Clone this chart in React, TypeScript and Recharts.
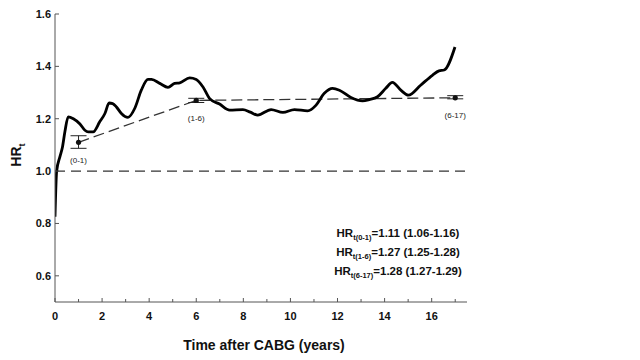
import React from 'react';
import {
    ComposedChart,
    Line,
    Scatter,
    ErrorBar,
    LabelList,
    XAxis,
    YAxis,
    ReferenceLine,
    Customized,
} from 'recharts';

// smoothed time-varying hazard ratio
const CURVE_T = [
    0, 0.07, 0.21, 0.32, 0.42, 0.56, 0.78, 1.06, 1.27, 1.41, 1.62, 1.9, 2.12, 2.3, 2.45, 2.61, 2.82, 3.1,
    3.39, 3.67, 3.95, 4.1, 4.45, 4.8, 5.08, 5.3, 5.72, 6.0, 6.28, 6.57, 6.99, 7.42, 7.98, 8.3, 8.61, 9.18,
    9.68, 10.17, 10.73, 11.09, 11.44, 11.79, 12.08, 12.57, 13.06, 13.35, 13.7, 14.05, 14.33, 14.69, 15.01,
    15.53, 16.03, 16.31, 16.53, 16.99,
];
const CURVE_HR = [
    0.826, 1.0, 1.055, 1.093, 1.15, 1.207, 1.2, 1.18, 1.156, 1.15, 1.15, 1.188, 1.22, 1.26, 1.258, 1.245,
    1.22, 1.205, 1.24, 1.31, 1.35, 1.35, 1.335, 1.32, 1.335, 1.337, 1.356, 1.35, 1.322, 1.277, 1.256, 1.233,
    1.235, 1.225, 1.214, 1.235, 1.224, 1.235, 1.23, 1.252, 1.297, 1.316, 1.309, 1.281, 1.268, 1.273, 1.284,
    1.316, 1.339, 1.309, 1.29, 1.328, 1.366, 1.383, 1.386, 1.474,
];

// period estimates
const PERIOD_LABELS = ['(0-1)', '(1-6)', '(6-17)'];
const PERIOD_T = [1, 6, 17];
const PERIOD_HR = [1.11, 1.27, 1.28];
const PERIOD_LOW = [1.087, 1.262, 1.276];
const PERIOD_HIGH = [1.135, 1.278, 1.288];

const HR_SUBS = ['t(0-1)', 't(1-6)', 't(6-17)'];
const HR_VALUES = ['=1.11 (1.06-1.16)', '=1.27 (1.25-1.28)', '=1.28 (1.27-1.29)'];

const X_TICKS = [0, 1, 2, 3, 4, 5, 6, 7, 8, 9, 10, 11, 12, 13, 14, 15, 16, 17];
const Y_TICKS = [0.6, 0.8, 1.0, 1.2, 1.4, 1.6];

const FONT = '"Liberation Sans", Arial, sans-serif';
const AXIS_COLOR = '#555';

const curve = CURVE_T.map((t, i) => ({ t, hr: CURVE_HR[i] }));
const periods = PERIOD_T.map((t, i) => ({
    t,
    hr: PERIOD_HR[i],
    err: [PERIOD_HR[i] - PERIOD_LOW[i], PERIOD_HIGH[i] - PERIOD_HR[i]],
    label: PERIOD_LABELS[i],
}));

const XTick = ({ x, y, payload }: any) => {
    const major = payload.value % 2 === 0;
    return (
        <g>
            <line x1={x} x2={x} y1={y} y2={y - (major ? 4 : 3)} stroke={AXIS_COLOR} />
            {major && (
                <text x={x} y={y + 18} textAnchor="middle" fontFamily={FONT} fontWeight="bold" fontSize={11} fill="#111">
                    {payload.value}
                </text>
            )}
        </g>
    );
};

const YTick = ({ x, y, payload }: any) => (
    <g>
        <line x1={x} x2={x + 4} y1={y} y2={y} stroke={AXIS_COLOR} />
        <text x={x - 4} y={y} dy="0.36em" textAnchor="end" fontFamily={FONT} fontWeight="bold" fontSize={11} fill="#111">
            {payload.value.toFixed(1)}
        </text>
    </g>
);

// period label under each point
const PeriodLabel = ({ x, y, width, height, value }: any) => (
    <text
        x={x + (width || 0) / 2}
        y={y + (height || 0) + 16}
        textAnchor="middle"
        fontFamily={FONT}
        fontSize={8}
        fill="#222"
    >
        {value}
    </text>
);

const Texts = () => (
    <g fontFamily={FONT} fontWeight="bold" fill="#111">
        <text x={264} y={350} textAnchor="middle" fontSize={14}>
            Time after CABG (years)
        </text>
        <text x={21} y={155} textAnchor="middle" fontSize={14} transform="rotate(-90, 21, 155)">
            HR<tspan fontSize={9} dy={4}>t</tspan>
        </text>
        {HR_SUBS.map((sub, i) => (
            <text key={sub} x={398} y={237 + i * 19} textAnchor="middle" fontSize={11.5}>
                HR
                <tspan fontSize={7.5} dy={3}>{sub}</tspan>
                <tspan dy={-3}>{HR_VALUES[i]}</tspan>
            </text>
        ))}
    </g>
);

const Dot = (props: any) => <circle cx={props.cx} cy={props.cy} r={2.6} fill="#111" />;

export default function App() {
    return (
        <div style={{ position: 'absolute', left: 0, top: 0, background: '#fff' }}>
            <ComposedChart width={640} height={360} margin={{ top: 14, right: 173, bottom: 18, left: 10 }}>
                <XAxis
                    xAxisId="b"
                    dataKey="t"
                    type="number"
                    domain={[0, 17.5]}
                    ticks={X_TICKS}
                    interval={0}
                    height={40}
                    tickSize={0}
                    tickMargin={0}
                    tick={<XTick />}
                    axisLine={{ stroke: AXIS_COLOR }}
                    allowDataOverflow
                />
                <XAxis xAxisId="top" orientation="top" type="number" domain={[0, 17.5]} height={0} tick={false} tickLine={false} axisLine={{ stroke: AXIS_COLOR }} />
                <YAxis
                    yAxisId="l"
                    type="number"
                    domain={[0.5, 1.6]}
                    ticks={Y_TICKS}
                    interval={0}
                    width={45}
                    tickSize={0}
                    tickMargin={0}
                    tick={<YTick />}
                    axisLine={{ stroke: AXIS_COLOR }}
                    allowDataOverflow
                />
                <YAxis yAxisId="r" orientation="right" type="number" domain={[0.5, 1.6]} width={0} tick={false} tickLine={false} axisLine={{ stroke: AXIS_COLOR }} />
                <ReferenceLine xAxisId="b" yAxisId="l" y={1} stroke="#333" strokeWidth={1.3} strokeDasharray="10 6" />
                <Line
                    xAxisId="b"
                    yAxisId="l"
                    data={periods}
                    dataKey="hr"
                    stroke="#333"
                    strokeWidth={1.3}
                    strokeDasharray="11 5"
                    dot={false}
                    isAnimationActive={false}
                />
                <Line
                    xAxisId="b"
                    yAxisId="l"
                    data={curve}
                    dataKey="hr"
                    type="monotone"
                    stroke="#000"
                    strokeWidth={2.8}
                    dot={false}
                    isAnimationActive={false}
                />
                <Scatter xAxisId="b" yAxisId="l" data={periods} dataKey="hr" shape={<Dot />} isAnimationActive={false}>
                    <ErrorBar dataKey="err" direction="y" width={8} stroke="#222" strokeWidth={1} />
                    <LabelList dataKey="label" content={<PeriodLabel />} />
                </Scatter>
                <Customized component={<Texts />} />
            </ComposedChart>
        </div>
    );
}
